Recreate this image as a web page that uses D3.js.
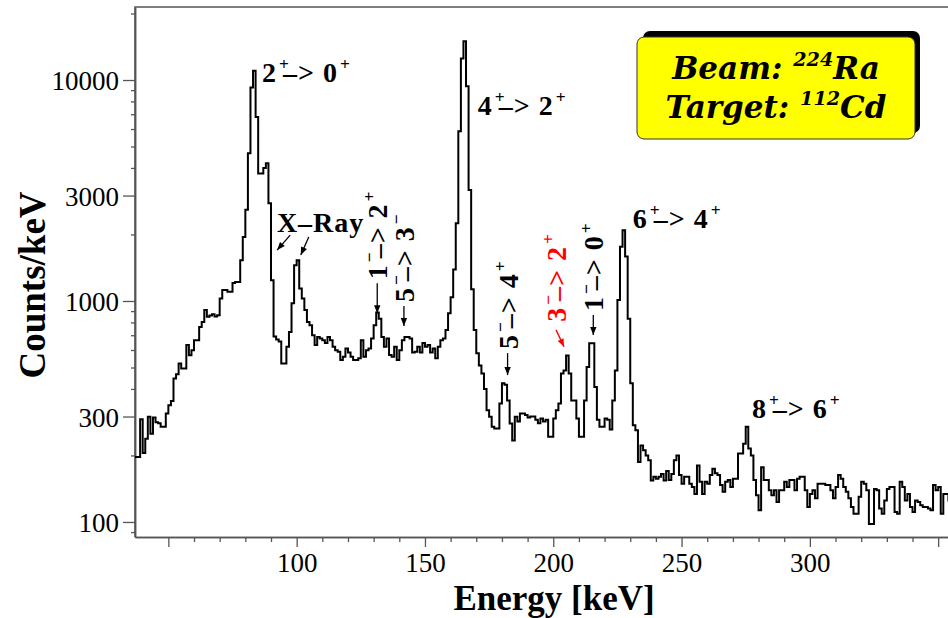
<!DOCTYPE html>
<html>
<head>
<meta charset="utf-8">
<script src="https://cdnjs.cloudflare.com/ajax/libs/d3/7.8.5/d3.min.js"></script>
<style>
  body { margin: 0; background: #fff; }
  svg text { font-family: "Liberation Serif", "Times New Roman", serif; }
  svg text.box { font-family: "DejaVu Serif", serif; }
</style>
</head>
<body>
<div id="chart"></div>
<script>
// gamma spectrum, 1 keV bins, first bin starts at 37 keV
var binStart = 37;
var binWidth = 1;
var counts = [
  197, 197, 292,
  205, 238, 299, 251, 297, 283, 280, 270, 270, 310,
  337, 353, 446, 466, 521, 495, 495, 632, 568, 598,
  664, 664, 763, 804, 910, 848, 860, 870, 850, 862,
  1026, 1120, 1120, 1100, 1100, 1207, 1220, 1220, 1530, 1950,
  2590, 4660, 9250, 11000, 6800, 3780, 3780, 4000, 4200, 2770,
  1240, 690, 670, 655, 521, 521, 620, 724, 977, 1450,
  1530, 1140, 1026, 910, 804, 776, 700, 632, 687, 676,
  665, 645, 687, 665, 620, 598, 589, 540, 560, 610,
  584, 560, 540, 540, 550, 665, 560, 598, 610, 676,
  776, 888, 832, 687, 620, 676, 570, 560, 620, 540,
  598, 665, 687, 687, 676, 584, 590, 620, 584, 645,
  620, 632, 584, 610, 550, 620, 665, 676, 740, 880,
  1040, 1390, 2250, 5860, 12500, 14960, 9360, 3180, 1130, 740,
  580, 510, 470, 400, 320, 299, 270, 265, 265, 344,
  424, 418, 355, 279, 234, 299, 285, 310, 310, 305,
  297, 300, 300, 290, 280, 294, 285, 290, 243, 243,
  294, 320, 344, 470, 485, 567, 470, 355, 355, 294,
  243, 243, 355, 503, 644, 644, 408, 290, 270, 270,
  294, 290, 262, 355, 485, 1010, 1760, 2090, 1590, 830,
  424, 274, 260, 187, 222, 211, 200, 190, 154, 160,
  157, 160, 165, 154, 170, 155, 165, 190, 200, 163,
  149, 160, 160, 149, 144, 134, 180, 152, 134, 152,
  149, 163, 174, 166, 163, 147, 137, 152, 155, 144,
  157, 157, 204, 204, 226, 270, 215, 200, 155, 132,
  113, 177, 155, 155, 139, 132, 139, 123, 139, 139,
  152, 144, 155, 155, 139, 157, 160, 160, 139, 117,
  134, 139, 128, 149, 149, 149, 147, 147, 139, 128,
  144, 163, 157, 144, 137, 128, 117, 109, 109, 130,
  152, 149, 139, 98, 98, 141, 139, 115, 109, 125,
  141, 144, 144, 111, 109, 152, 144, 125, 134, 117,
  111, 125, 123, 119, 117, 117, 115, 113, 147, 139,
  144, 109, 134, 134, 125
];

var xMajorTicks = [50, 100, 150, 200, 250, 300, 350];
var xTickLabels = [100, 150, 200, 250, 300];
var yTickLabels = [100, 300, 1000, 3000, 10000];

// peak labels, anchored at (energy, counts) of the text start
var levelLabels = [
  {text: "2^{+}–> 0^{+}", energy: 86.5, count: 9800},
  {text: "4^{+}–> 2^{+}", energy: 170.6, count: 6950},
  {text: "6^{+}–> 4^{+}", energy: 231.0, count: 2140},
  {text: "8^{+}–> 6^{+}", energy: 277.4, count: 295},
  {text: "X–Ray", energy: 92.3, count: 2050}
];
// upright labels with an arrow down onto a small peak (arrow = length in px)
var sideLabels = [
  {text: "1^{−}–> 2^{+}", energy: 131.4, count: 880, arrow: 30, color: "#000"},
  {text: "5^{−}–> 3^{−}", energy: 141.8, count: 770, arrow: 20, color: "#000"},
  {text: "5^{−}–> 4^{+}", energy: 182.2, count: 462, arrow: 22, color: "#000"},
  {text: "3^{−}–> 2^{+}", energy: 204.2, count: 620, arrow: 17, color: "#ff0000"},
  {text: "1^{−}–> 0^{+}", energy: 215.6, count: 701, arrow: 20, color: "#000"}
];
// X-ray arrow tips
var xrayTips = [{energy: 92.4, count: 1700}, {energy: 101.6, count: 1614}];

var width = 948, height = 618;
var plotL = 135, plotR = 951, plotT = 7, plotB = 537;
var labelSize = 28;

var svg = d3.select("#chart").append("svg").attr("width", width).attr("height", height);

var x = d3.scaleLinear().domain([37, 355]).range([plotL, plotR]);
var y = d3.scaleLog().domain([85.5, 21400]).range([plotB, plotT]);

var defs = svg.append("defs");
defs.append("clipPath").attr("id", "plot").append("rect")
  .attr("x", plotL).attr("y", plotT).attr("width", plotR - plotL).attr("height", plotB - plotT);
["#000", "#ff0000"].forEach(function(c, i) {
  defs.append("marker").attr("id", "head" + i).attr("viewBox", "0 0 10 10")
    .attr("refX", 10).attr("refY", 5).attr("markerUnits", "userSpaceOnUse")
    .attr("markerWidth", 9).attr("markerHeight", 8).attr("orient", "auto")
    .append("path").attr("d", "M0,1 L10,5 L0,9 z").attr("fill", c);
});

// writes "a^{b}c" as tspans with raised superscripts
// tuck: pull the text after a superscript back under it, like ROOT does
function rich(textSel, str, size, tuck) {
  var re = /\^\{([^}]*)\}/g, last = 0, m, raised = false;
  var rise = size * 0.42;
  function add(t, sup) {
    var ts = textSel.append("tspan").text(t);
    if (sup) {
      ts.attr("dy", -rise).attr("dx", tuck ? 2 : 0).attr("font-size", size * 0.62);
      raised = true;
    } else if (raised) {
      ts.attr("dy", rise).attr("dx", tuck ? -size * 0.25 : 0);
      raised = false;
    }
  }
  while ((m = re.exec(str))) {
    if (m.index > last) add(str.slice(last, m.index), false);
    add(m[1], true);
    last = re.lastIndex;
  }
  if (last < str.length) add(str.slice(last), false);
}

// frame
svg.append("path")
  .attr("d", "M" + plotL + "," + plotB + "V" + plotT + "H" + plotR + "V" + plotB)
  .attr("fill", "none").attr("stroke", "#555").attr("stroke-width", 1.5);

// x axis: minor ticks every 10 keV, major every 50
var xMinor = d3.range(60, 355, 10).filter(function(v) { return v % 50 !== 0; });
var xAxisMinor = svg.append("g").attr("transform", "translate(0," + plotB + ")")
  .call(d3.axisBottom(x).tickValues(xMinor).tickSize(5).tickSizeOuter(0).tickFormat(""));
var xAxisMajor = svg.append("g").attr("transform", "translate(0," + plotB + ")")
  .call(d3.axisBottom(x).tickValues(xMajorTicks).tickSize(10).tickSizeOuter(0).tickPadding(6)
    .tickFormat(function(d) { return xTickLabels.indexOf(d) >= 0 ? d : ""; }));

// y axis: log minor ticks 2..9 per decade
var yMinor = [];
[10, 100, 1000, 10000].forEach(function(dec) {
  for (var k = 1; k < 10; k++) {
    var v = dec * k;
    if (v >= 85.5 && v <= 21400 && yTickLabels.indexOf(v) < 0) yMinor.push(v);
  }
});
var yAxisMinor = svg.append("g").attr("transform", "translate(" + plotL + ",0)")
  .call(d3.axisLeft(y).tickValues(yMinor).tickSize(4).tickSizeOuter(0).tickFormat(""));
var yAxisMajor = svg.append("g").attr("transform", "translate(" + plotL + ",0)")
  .call(d3.axisLeft(y).tickValues(yTickLabels).tickSize(12).tickSizeOuter(0).tickPadding(4)
    .tickFormat(d3.format("d")));

svg.selectAll(".domain").attr("stroke", "#555").attr("stroke-width", 1.5);
svg.selectAll(".tick line").attr("stroke", "#555").attr("stroke-width", 1.3);
svg.selectAll(".tick text").attr("font-size", 27).attr("fill", "#000");
xAxisMajor.selectAll(".tick text").attr("dy", "0.71em");
yAxisMajor.selectAll(".tick text").attr("dy", "0.36em");

// histogram outline
var steps = counts.map(function(c, i) { return [binStart + i * binWidth, c]; });
steps.push([binStart + counts.length * binWidth, counts[counts.length - 1]]);
var line = d3.line()
  .x(function(d) { return x(d[0]); })
  .y(function(d) { return y(d[1]); })
  .curve(d3.curveStepAfter);
svg.append("path").datum(steps)
  .attr("clip-path", "url(#plot)")
  .attr("d", line)
  .attr("fill", "none").attr("stroke", "#000").attr("stroke-width", 2);

// axis titles
svg.append("text").attr("x", 554).attr("y", 610).attr("text-anchor", "middle")
  .attr("font-size", 35).attr("font-weight", "bold").text("Energy [keV]");
svg.append("text").attr("transform", "translate(45,285) rotate(-90)").attr("text-anchor", "middle")
  .attr("font-size", 37).attr("font-weight", "bold").text("Counts/keV");

// level labels
levelLabels.forEach(function(l) {
  var t = svg.append("text").attr("x", x(l.energy)).attr("y", y(l.count))
    .attr("font-size", labelSize).attr("font-weight", "bold").attr("letter-spacing", 1);
  rich(t, l.text, labelSize, true);
});

xrayTips.forEach(function(p, i) {
  var tx = x(p.energy), ty = y(p.count);
  var dx = i === 0 ? 13 : 8, dy = i === 0 ? -15 : -18;
  svg.append("line").attr("x1", tx + dx).attr("y1", ty + dy).attr("x2", tx).attr("y2", ty)
    .attr("stroke", "#000").attr("stroke-width", 1.3).attr("marker-end", "url(#head0)");
});

sideLabels.forEach(function(l) {
  var tx = x(l.energy), ty = y(l.count);
  var red = l.color !== "#000";
  var sx = red ? tx - 8 : tx, sy = ty - l.arrow;
  svg.append("line").attr("x1", sx).attr("y1", sy).attr("x2", tx).attr("y2", ty)
    .attr("stroke", l.color).attr("stroke-width", 1.3)
    .attr("marker-end", "url(#head" + (red ? 1 : 0) + ")");
  var t = svg.append("text")
    .attr("transform", "translate(" + (sx + 10) + "," + (sy - (red ? 8 : 4)) + ") rotate(-90)")
    .attr("font-size", labelSize).attr("font-weight", "bold").attr("letter-spacing", 1)
    .attr("fill", l.color);
  rich(t, l.text, labelSize, true);
});

// beam / target box
var box = svg.append("g");
box.append("rect").attr("x", 643).attr("y", 31).attr("width", 277).attr("height", 102)
  .attr("rx", 7).attr("fill", "#000");
box.append("rect").attr("x", 637).attr("y", 37).attr("width", 278).attr("height", 102)
  .attr("rx", 7).attr("fill", "#ffff00").attr("stroke", "#333").attr("stroke-width", 1);
["Beam: ^{224}Ra", "Target: ^{112}Cd"].forEach(function(s, i) {
  var t = box.append("text").attr("class", "box")
    .attr("x", 776).attr("y", i === 0 ? 79 : 118).attr("text-anchor", "middle")
    .attr("font-style", "italic").attr("font-weight", "bold").attr("font-size", 31);
  rich(t, s, 31, false);
});
</script>
</body>
</html>
